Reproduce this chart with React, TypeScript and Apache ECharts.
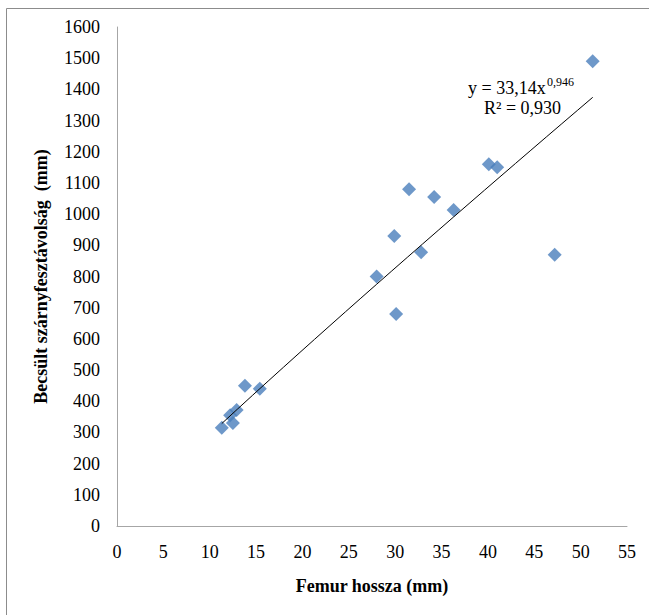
import React, { useEffect, useRef } from "react";
import * as echarts from "echarts";

const femurLength = [11.3, 12.5, 12.2, 12.9, 13.8, 15.4, 28.0, 29.9, 30.1, 31.5, 32.8, 34.2, 36.3, 40.1, 41.0, 47.2, 51.3];
const wingspan = [315, 330, 355, 372, 450, 440, 800, 930, 680, 1080, 878, 1055, 1013, 1160, 1150, 870, 1490];
const trendA = 33.14;
const trendB = 0.946;
const trendSteps = 24;

const FONT = "'Liberation Serif', 'Times New Roman', serif";

export default function App() {
  const ref = useRef<HTMLDivElement>(null);
  useEffect(() => {
    if (!ref.current) return;
    const chart = echarts.init(ref.current, null, { renderer: "svg" });
    const points = femurLength.map((x, i) => [x, wingspan[i]]);
    const xMin = Math.min(...femurLength);
    const xMax = Math.max(...femurLength);
    const trend: number[][] = [];
    for (let i = 0; i <= trendSteps; i++) {
      const x = xMin + ((xMax - xMin) * i) / trendSteps;
      trend.push([x, trendA * Math.pow(x, trendB)]);
    }
    chart.setOption({
      animation: false,
      backgroundColor: "#ffffff",
      grid: { left: 117, right: 22, top: 27, bottom: 89 },
      xAxis: {
        type: "value",
        min: 0,
        max: 55,
        interval: 5,
        name: "Femur hossza (mm)",
        nameLocation: "middle",
        nameGap: 51,
        nameTextStyle: { fontFamily: FONT, fontSize: 18, fontWeight: "bold", color: "#000" },
        axisLine: { show: true, lineStyle: { color: "#a6a6a6", width: 1 } },
        axisTick: { show: false },
        splitLine: { show: false },
        axisLabel: { fontFamily: FONT, fontSize: 18, color: "#000", margin: 17, formatter: (v: number) => String(v) },
      },
      yAxis: {
        type: "value",
        min: 0,
        max: 1600,
        interval: 100,
        name: "Becsült szárnyfesztávolság  (mm)",
        nameLocation: "middle",
        nameGap: 67,
        nameTextStyle: { fontFamily: FONT, fontSize: 18, fontWeight: "bold", color: "#000" },
        axisLine: { show: true, lineStyle: { color: "#a6a6a6", width: 1 } },
        axisTick: { show: false },
        splitLine: { show: false },
        axisLabel: { fontFamily: FONT, fontSize: 18, color: "#000", margin: 17, formatter: (v: number) => String(v) },
      },
      graphic: [
        {
          type: "rect",
          shape: { x: 6.5, y: 8.5, width: 700, height: 700 },
          style: { fill: "none", stroke: "#8c8c8c", lineWidth: 1 },
          silent: true,
          z: -10,
        },
        {
          type: "text",
          x: 468,
          y: 88,
          style: { text: "y = 33,14x", fontFamily: FONT, fontSize: 18, fill: "#000", verticalAlign: "middle", align: "left" },
        },
        {
          type: "text",
          x: 547,
          y: 82,
          style: { text: "0,946", fontFamily: FONT, fontSize: 12, fill: "#000", verticalAlign: "middle", align: "left" },
        },
        {
          type: "text",
          x: 484,
          y: 108,
          style: { text: "R² = 0,930", fontFamily: FONT, fontSize: 18, fill: "#000", verticalAlign: "middle", align: "left" },
        },
      ],
      series: [
        {
          type: "line",
          data: trend,
          showSymbol: false,
          symbol: "none",
          lineStyle: { color: "#000", width: 1 },
          z: 3,
          silent: true,
        },
        {
          type: "scatter",
          data: points,
          symbol: "diamond",
          symbolSize: 14,
          itemStyle: { color: "#4a7ebb" },
          z: 2,
        },
      ],
    });
    return () => chart.dispose();
  }, []);
  return <div ref={ref} style={{ position: "fixed", left: 0, top: 0, width: 649, height: 615 }} />;
}
